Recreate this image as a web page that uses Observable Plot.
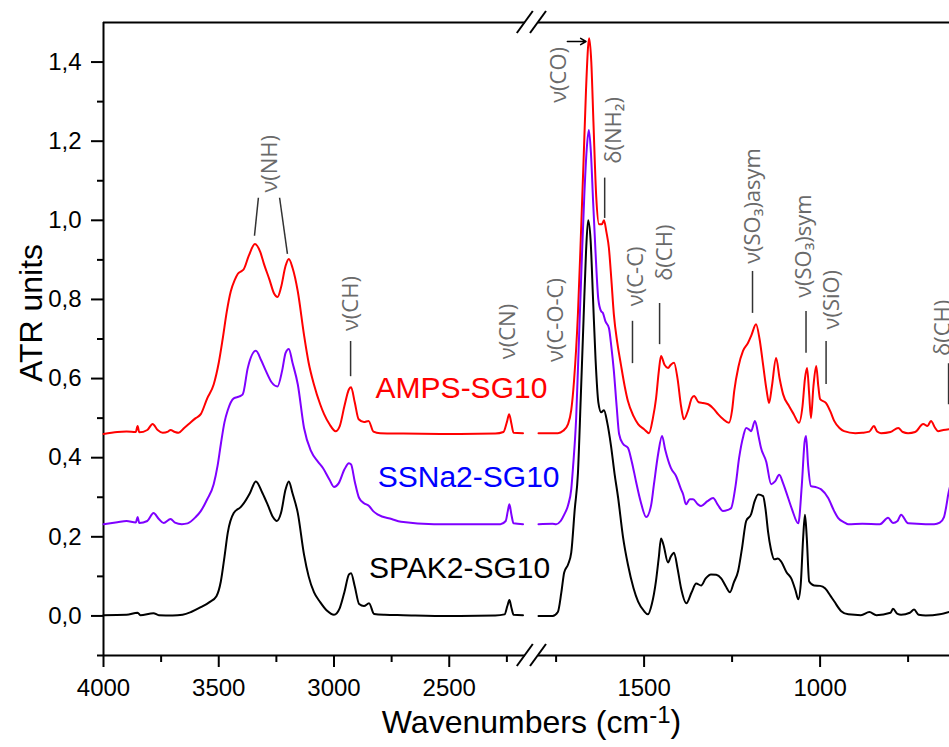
<!DOCTYPE html>
<html>
<head>
<meta charset="utf-8">
<script src="https://cdn.jsdelivr.net/npm/d3@7"></script>
<script src="https://cdn.jsdelivr.net/npm/@observablehq/plot@0.6"></script>
<style>
  body { margin: 0; background: #fff; }
</style>
</head>
<body>
<div id="chart"></div>
<script>
// ---------- data ----------
const seriesNames = ["AMPS-SG10", "SSNa2-SG10", "SPAK2-SG10"];
const lineColors = ["#ff0000", "#7f00ff", "#000000"];
const labelColors = ["#ff0000", "#0000ff", "#000000"];
const labelWn = [2447, 2416, 2455];
const labelAbs = [0.575, 0.351, 0.119];

const ampsWn = [4000,3940,3900,3860,3852,3845,3810,3787,3765,3743,3720,3709,3690,3674,3650,3630,3600,3578,3550,3522,3500,3483,3465,3448,3430,3417,3400,3391,3370,3343,3320,3304,3280,3260,3245,3230,3210,3196,3180,3157,3130,3110,3087,3060,3043,3020,2993,2975,2955,2935,2926,2910,2893,2870,2850,2829,2800,2700,2500,2300,2265,2250,2240,2230,2221,2180,
  1800,1760,1745,1730,1716,1707,1699,1688,1680,1672,1665,1659,1656,1650,1644,1636,1628,1620,1614,1607,1600,1593,1586,1576,1566,1555,1546,1530,1517,1500,1486,1475,1466,1458,1452,1442,1432,1424,1415,1405,1395,1387,1375,1365,1358,1345,1333,1318,1301,1290,1275,1259,1250,1244,1232,1219,1205,1195,1182,1172,1162,1152,1145,1137,1125,1115,1105,1088,1075,1060,1050,1043,1037,1031,1026,1019,1011,1005,1000,983,970,960,945,932,900,880,860,847,838,827,800,778,765,750,730,707,695,685,673,665,650,633];
const ampsAbs = [0.46,0.465,0.466,0.465,0.48,0.464,0.47,0.485,0.47,0.463,0.466,0.47,0.465,0.463,0.475,0.485,0.5,0.51,0.55,0.585,0.64,0.70,0.77,0.82,0.85,0.865,0.872,0.877,0.91,0.94,0.92,0.89,0.85,0.815,0.806,0.83,0.885,0.902,0.88,0.82,0.71,0.64,0.585,0.535,0.51,0.485,0.467,0.48,0.53,0.573,0.578,0.54,0.497,0.49,0.493,0.466,0.462,0.461,0.46,0.461,0.465,0.49,0.51,0.485,0.463,0.462,
  0.462,0.462,0.462,0.468,0.485,0.52,0.595,0.763,0.95,1.15,1.33,1.44,1.46,1.40,1.25,1.06,0.99,0.99,1.0,0.97,0.93,0.85,0.763,0.69,0.636,0.58,0.543,0.505,0.485,0.472,0.462,0.5,0.55,0.62,0.657,0.635,0.627,0.635,0.64,0.6,0.53,0.497,0.52,0.55,0.556,0.54,0.538,0.535,0.522,0.51,0.497,0.488,0.52,0.568,0.63,0.67,0.69,0.71,0.737,0.7,0.635,0.57,0.538,0.58,0.652,0.6,0.56,0.53,0.51,0.488,0.53,0.6,0.627,0.56,0.5,0.58,0.632,0.58,0.548,0.538,0.515,0.493,0.475,0.467,0.462,0.463,0.466,0.48,0.466,0.462,0.465,0.475,0.465,0.462,0.465,0.485,0.48,0.493,0.475,0.467,0.47,0.472];

const ssnaWn = [4000,3940,3900,3860,3852,3845,3810,3783,3760,3739,3709,3690,3660,3635,3600,3578,3550,3522,3505,3491,3475,3461,3435,3410,3396,3374,3339,3315,3296,3270,3245,3225,3210,3196,3180,3157,3130,3100,3070,3048,3020,3000,2980,2955,2935,2926,2910,2891,2870,2848,2830,2809,2750,2709,2566,2400,2278,2255,2246,2239,2230,2221,2180,
  1800,1760,1750,1737,1727,1716,1707,1702,1693,1685,1677,1670,1663,1657,1651,1645,1638,1630,1622,1617,1610,1600,1593,1586,1578,1571,1560,1546,1535,1523,1510,1494,1480,1472,1460,1449,1440,1424,1409,1395,1389,1381,1370,1361,1347,1338,1320,1304,1290,1276,1262,1253,1240,1230,1218,1210,1200,1196,1185,1175,1168,1153,1139,1128,1116,1105,1097,1080,1062,1052,1044,1040,1034,1026,1010,997,977,960,949,930,920,880,830,807,793,780,770,750,700,676,660,648,641,636,630];
const ssnaAbs = [0.232,0.237,0.24,0.236,0.25,0.235,0.24,0.26,0.245,0.235,0.245,0.236,0.232,0.234,0.25,0.265,0.295,0.333,0.38,0.434,0.49,0.52,0.55,0.555,0.56,0.627,0.67,0.645,0.62,0.59,0.58,0.62,0.665,0.675,0.64,0.585,0.475,0.417,0.39,0.374,0.345,0.326,0.335,0.37,0.386,0.383,0.34,0.298,0.285,0.278,0.265,0.256,0.245,0.238,0.232,0.232,0.232,0.24,0.265,0.282,0.255,0.234,0.232,
  0.232,0.233,0.232,0.24,0.256,0.28,0.32,0.375,0.5,0.7,0.9,1.06,1.18,1.228,1.17,1.05,0.92,0.80,0.77,0.766,0.745,0.728,0.68,0.62,0.53,0.46,0.435,0.425,0.39,0.34,0.29,0.25,0.28,0.333,0.41,0.455,0.42,0.374,0.353,0.32,0.307,0.282,0.295,0.295,0.282,0.278,0.29,0.298,0.28,0.265,0.268,0.272,0.33,0.4,0.455,0.475,0.47,0.467,0.493,0.455,0.425,0.39,0.333,0.34,0.357,0.335,0.315,0.27,0.234,0.33,0.44,0.455,0.38,0.328,0.325,0.32,0.298,0.265,0.248,0.236,0.232,0.233,0.232,0.248,0.235,0.24,0.256,0.234,0.232,0.232,0.236,0.25,0.28,0.307,0.33];

const spakWn = [4000,3900,3852,3840,3783,3760,3700,3657,3620,3578,3540,3510,3491,3475,3461,3435,3405,3391,3365,3339,3310,3287,3265,3248,3230,3210,3196,3180,3157,3130,3110,3087,3060,3030,3000,2975,2955,2935,2926,2910,2891,2870,2848,2826,2780,2700,2500,2300,2260,2248,2239,2230,2221,2180,
  1800,1760,1745,1735,1727,1716,1707,1697,1688,1680,1672,1665,1659,1652,1645,1638,1630,1622,1614,1605,1594,1584,1574,1560,1546,1530,1517,1500,1489,1478,1466,1458,1452,1445,1432,1424,1415,1405,1395,1380,1365,1352,1338,1325,1310,1295,1281,1268,1256,1245,1233,1222,1210,1196,1186,1176,1162,1155,1148,1140,1130,1120,1111,1095,1082,1070,1062,1055,1048,1043,1038,1031,1017,1000,986,970,960,940,920,884,860,840,800,793,780,770,745,733,720,700,660,633];
const spakAbs = [0.002,0.003,0.008,0.002,0.007,0.002,0.001,0.003,0.01,0.022,0.035,0.05,0.087,0.15,0.21,0.26,0.275,0.285,0.31,0.34,0.31,0.28,0.25,0.24,0.26,0.32,0.34,0.31,0.26,0.155,0.1,0.06,0.035,0.013,0.003,0.02,0.06,0.105,0.108,0.075,0.03,0.025,0.032,0.005,0.003,0.002,0.0,0.001,0.004,0.025,0.04,0.02,0.003,0.002,
  0.0,0.0,0.01,0.06,0.11,0.13,0.16,0.27,0.36,0.55,0.75,0.92,1.0,0.95,0.8,0.65,0.54,0.515,0.52,0.49,0.43,0.36,0.30,0.2,0.13,0.07,0.036,0.012,0.004,0.03,0.09,0.15,0.196,0.18,0.135,0.15,0.16,0.12,0.07,0.032,0.06,0.082,0.077,0.095,0.105,0.104,0.095,0.075,0.06,0.085,0.113,0.17,0.24,0.257,0.29,0.307,0.303,0.27,0.214,0.17,0.143,0.145,0.138,0.11,0.095,0.065,0.042,0.08,0.2,0.256,0.2,0.087,0.077,0.076,0.07,0.05,0.037,0.012,0.004,0.002,0.01,0.002,0.008,0.018,0.005,0.003,0.008,0.016,0.003,0.001,0.004,0.01];

// axis definition
const xBreakDomain = [4000, 2170, 1800, 630];
const xMajorTicks = [4000, 3500, 3000, 2500, 1500, 1000];
const xMinorTicks = [3750, 3250, 2750, 2250, 1750, 1250, 750];
const yDomain = [-0.1, 1.5];
const yMajorTicks = [0, 0.2, 0.4, 0.6, 0.8, 1.0, 1.2, 1.4];
const yMinorTicks = [-0.1, 0.1, 0.3, 0.5, 0.7, 0.9, 1.1, 1.3];

// band annotations
const annoLabels = ["ν(NH)", "ν(CH)", "ν(CN)", "ν(C-O-C)", "ν(CO)", "δ(NH₂)", "ν(C-C)", "δ(CH)", "ν(SO₃)asym", "ν(SO₃)sym", "ν(SiO)", "δ(CH)"];
const annoWn = [3276, 2928, 2247, 1751, 1742, 1587, 1524, 1442, 1192, 1047, 967, 652];
const annoAbs = [1.07, 0.72, 0.649, 0.642, 1.297, 1.143, 0.783, 0.847, 0.89, 0.804, 0.724, 0.657];
const leaderWn1 = [3328, 3236, 2928, 1612, 1533, 1456, 1192, 1040, 983, 635];
const leaderAbs1 = [1.057, 1.057, 0.695, 1.108, 0.746, 0.791, 0.872, 0.771, 0.695, 0.639];
const leaderWn2 = [3345, 3202, 2928, 1612, 1533, 1456, 1192, 1040, 983, 635];
const leaderAbs2 = [0.961, 0.915, 0.606, 1.006, 0.639, 0.687, 0.766, 0.665, 0.586, 0.535];
const arrowWn = [1718, 1665];
const arrowAbs = [1.452, 1.452];

// ---------- build tables ----------
const wnLists = [ampsWn, ssnaWn, spakWn];
const absLists = [ampsAbs, ssnaAbs, spakAbs];
const rows = [];
seriesNames.forEach((name, i) => {
  wnLists[i].forEach((w, j) => {
    rows.push({series: name, wn: w, a: absLists[i][j], seg: name + (w > xBreakDomain[1] ? "-L" : "-R")});
  });
});
const labels = seriesNames.map((n, i) => ({n, wn: labelWn[i], a: labelAbs[i], c: labelColors[i]}));
const annos = annoLabels.map((t, i) => ({t, wn: annoWn[i], a: annoAbs[i]}));
const leaders = leaderWn1.map((w, i) => ({x1: w, y1: leaderAbs1[i], x2: leaderWn2[i], y2: leaderAbs2[i]}));
const frameSegs = [];
for (const yv of yDomain) {
  frameSegs.push({y: yv, x1: xBreakDomain[0], x2: xBreakDomain[1]});
  frameSegs.push({y: yv, x1: xBreakDomain[2], x2: xBreakDomain[3]});
}

const W = 949, H = 747;
const mL = 103, mT = 22, mB = 92;
const leftPx = 0.2305, rightPx = 0.352;
const xRange = [mL, mL + (xBreakDomain[0] - xBreakDomain[1]) * leftPx, 538, 538 + (xBreakDomain[2] - xBreakDomain[3]) * rightPx];
const fmtY = d => d.toFixed(1).replace(".", ",");
const xTitle = "Wavenumbers (cm-1)";

const chart = Plot.plot({
  width: W, height: H,
  marginLeft: mL, marginRight: 0, marginTop: mT, marginBottom: mB,
  style: {fontFamily: "'Liberation Sans', Arial, sans-serif", color: "#000", background: "#fff"},
  x: {type: "linear", domain: xBreakDomain, range: xRange, label: null},
  y: {domain: yDomain, label: null},
  color: {domain: seriesNames, range: lineColors},
  marks: [
    Plot.ruleY(frameSegs, {y: "y", x1: "x1", x2: "x2", stroke: "#000", strokeWidth: 2}),
    Plot.ruleX([xBreakDomain[0]], {y1: yDomain[0], y2: yDomain[1], stroke: "#000", strokeWidth: 2}),
    Plot.axisX({ticks: xMajorTicks, tickSize: 12, tickPadding: 11, fontSize: 24, strokeWidth: 2, tickFormat: d => String(d)}),
    Plot.axisX({ticks: xMinorTicks, tickSize: 7, strokeWidth: 2, tickFormat: () => ""}),
    Plot.axisY({ticks: yMajorTicks, tickSize: 12, tickPadding: 10, fontSize: 24, strokeWidth: 2, tickFormat: fmtY}),
    Plot.axisY({ticks: yMinorTicks, tickSize: 6, strokeWidth: 2, tickFormat: () => ""}),
    Plot.line(rows, {x: "wn", y: "a", z: "seg", stroke: "series", strokeWidth: 2, curve: "monotone-x"}),
    Plot.text(labels, {x: "wn", y: "a", text: "n", fill: "c", fontSize: 30, textAnchor: "middle"}),
    Plot.link(leaders, {x1: "x1", y1: "y1", x2: "x2", y2: "y2", stroke: "#333", strokeWidth: 1.5}),
    Plot.arrow([0], {x1: arrowWn[0], y1: arrowAbs[0], x2: arrowWn[1], y2: arrowAbs[1], stroke: "#000", strokeWidth: 1.5, headLength: 9}),
    Plot.text(annos, {x: "wn", y: "a", text: "t", rotate: -90, textAnchor: "start", fill: "#6a6a6a", fontSize: 22, fontFamily: "'Open Sans', sans-serif"}),
    Plot.text([xTitle], {frameAnchor: "bottom", lineAnchor: "middle", textAnchor: "middle", dy: 67, dx: 5, fontSize: 32}),
    Plot.text(["ATR units"], {frameAnchor: "left", lineAnchor: "middle", textAnchor: "middle", dx: -72, dy: -26, rotate: -90, fontSize: 32})
  ]
});

document.getElementById("chart").appendChild(chart);

// axis break marks and superscript
const svg = d3.select(chart.tagName.toLowerCase() === "svg" ? chart : chart.querySelector("svg"));
const xs = chart.scale("x"), ys = chart.scale("y");
for (const yv of yDomain) {
  const py = ys.apply(yv);
  for (const wv of [xBreakDomain[1], xBreakDomain[2]]) {
    const px = xs.apply(wv);
    svg.append("line")
      .attr("x1", px - 8).attr("y1", py + 11)
      .attr("x2", px + 8).attr("y2", py - 11)
      .attr("stroke", "#000").attr("stroke-width", 2);
  }
}
svg.selectAll("text").filter(function() { return this.textContent === xTitle; }).each(function() {
  const t = d3.select(this);
  t.text(null);
  t.append("tspan").text("Wavenumbers (cm");
  t.append("tspan").attr("dy", "-0.42em").attr("font-size", "24").text("-1");
  t.append("tspan").attr("dy", "0.3em").text(")");
});
</script>
</body>
</html>
